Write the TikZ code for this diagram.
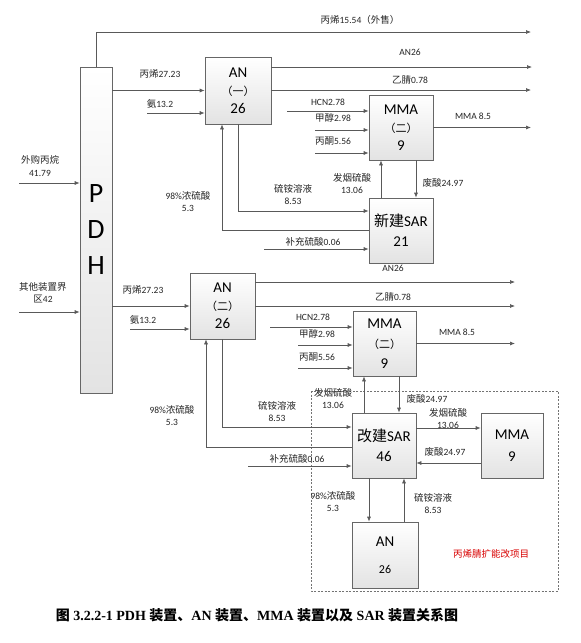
\documentclass[tikz,border=0pt]{standalone}
\usepackage{fontspec}
\setmainfont{Carlito}
\newfontfamily\cjk{Noto Sans CJK SC}
\newfontfamily\capserif{Liberation Serif}
\usetikzlibrary{arrows.meta,calc}
\newcommand{\zh}[1]{{\cjk #1}}
\newcommand{\pz}[1]{{\fontsize{11}{18}\selectfont\cjk #1}}
\begin{document}
\begin{tikzpicture}[x=1pt,y=-1pt,
  box/.style={draw=black!60, line width=0.7pt, top color=white, bottom color=gray!22, inner sep=0pt, align=center, font=\fontsize{15}{18}\selectfont},
  lbl/.style={font=\fontsize{9.5}{12}\selectfont, text=black!85, inner sep=0pt, align=center},
  flow/.style={draw=black!65, line width=0.7pt, -{Latex[length=5pt,width=4pt]}},
]
\fill[white] (0,0) rectangle (581,643);
\useasboundingbox (0,0) rectangle (581,643);

% boxes
\node[box, minimum width=32pt, minimum height=326pt, font=\fontsize{28}{36}\selectfont] (pdh) at (96,230) {P\\D\\H};
\node[box, minimum width=66pt, minimum height=67pt] (an1) at (238,90.5) {AN\\\pz{（一）}\\26};
\node[box, minimum width=64pt, minimum height=65pt] (mma1) at (401,127.5) {MMA\\\pz{（二）}\\9};
\node[box, minimum width=64pt, minimum height=65pt, font=\fontsize{15}{20}\selectfont] (sar1) at (401,230.5) {\zh{新建}SAR\\21};
\node[box, minimum width=65pt, minimum height=66pt] (an2) at (222.5,306) {AN\\\pz{（二）}\\26};
\node[box, minimum width=63pt, minimum height=65pt, font=\fontsize{15}{20}\selectfont] (mma2) at (384.5,343.5) {MMA\\\pz{（二）}\\9};
\node[box, minimum width=64pt, minimum height=65pt, font=\fontsize{15}{20}\selectfont] (sar2) at (384,445.5) {\zh{改建}SAR\\46};
\node[box, minimum width=62pt, minimum height=65pt, font=\fontsize{15}{22}\selectfont] (mma3) at (512,445.5) {MMA\\9};
\node[box, minimum width=66pt, minimum height=66pt, font=\fontsize{15}{27}\selectfont] (an3) at (385,555) {AN\\{\fontsize{12}{27}\selectfont 26}};

% dashed project frame
\draw[draw=black!55, line width=0.7pt, dash pattern=on 2pt off 1.5pt] (311,391) rectangle (558,591);

% coordinates
\coordinate (o0) at (531,32);
\coordinate (o1) at (532,67);
\coordinate (o2) at (531,90);
\coordinate (o3) at (531,127.5);
\coordinate (nh1) at (147,113);
\coordinate (ex1) at (19,183);
\coordinate (hcn1) at (287,111);
\coordinate (me1) at (315,130);
\coordinate (ac1) at (315,153);
\coordinate (sup1) at (264,249);
\coordinate (ex2) at (19,312);
\coordinate (nh2) at (130,329);
\coordinate (o4) at (515,282);
\coordinate (o5) at (515,306);
\coordinate (o6) at (515,343.5);
\coordinate (hcn2) at (270,327);
\coordinate (me2) at (298,345);
\coordinate (ac2) at (298,368);
\coordinate (sup2) at (248,466);

% upper connectors
\draw[flow] (pdh.north) |- (o0);
\draw[flow] (ex1) -- (ex1 -| pdh.west);
\draw[flow] (pdh.east |- an1.west) -- (an1.west);
\draw[flow] (nh1) -- (nh1 -| an1.west);
\draw[flow] (o1 -| an1.east) -- (o1);
\draw[flow] (o2 -| an1.east) -- (o2);
\draw[flow] (hcn1) -- (hcn1 -| mma1.west);
\draw[flow] (me1) -- (me1 -| mma1.west);
\draw[flow] (ac1) -- (ac1 -| mma1.west);
\draw[flow] (mma1.east) -- (o3);
\draw[flow] ([xshift=-20pt]sar1.north) -- ([xshift=-20pt]sar1.north |- mma1.south);
\draw[flow] ([xshift=15pt]sar1.north |- mma1.south) -- ([xshift=15pt]sar1.north);
\draw[flow] (an1.south) |- ([yshift=19.5pt]sar1.west);
\draw[flow] (sar1.west) -| ([xshift=-16pt]an1.south);
\draw[flow] (sup1) -- (sup1 -| sar1.west);

% lower connectors
\draw[flow] (ex2) -- (ex2 -| pdh.west);
\draw[flow] (pdh.east |- an2.west) -- (an2.west);
\draw[flow] (nh2) -- (nh2 -| an2.west);
\draw[flow] (o4 -| an2.east) -- (o4);
\draw[flow] (o5 -| an2.east) -- (o5);
\draw[flow] (hcn2) -- (hcn2 -| mma2.west);
\draw[flow] (me2) -- (me2 -| mma2.west);
\draw[flow] (ac2) -- (ac2 -| mma2.west);
\draw[flow] (mma2.east) -- (o6);
\draw[flow] ([xshift=-20pt]sar2.north) -- ([xshift=-20pt]sar2.north |- mma2.south);
\draw[flow] ([xshift=15pt]sar2.north |- mma2.south) -- ([xshift=15pt]sar2.north);
\draw[flow] (an2.south) |- ([yshift=18.5pt]sar2.west);
\draw[flow] ([yshift=-1.5pt]sar2.west) -| ([xshift=-16.5pt]an2.south);
\draw[flow] (sup2) -- (sup2 -| sar2.west);
\draw[flow] ([yshift=17.5pt]sar2.east) -- ([yshift=17.5pt]sar2.east -| mma3.west);
\draw[flow] ([yshift=-17.5pt]sar2.east -| mma3.west) -- ([yshift=-17.5pt]sar2.east);
\draw[flow] ([xshift=-15pt]sar2.south) -- ([xshift=-15pt]sar2.south |- an3.north);
\draw[flow] ([xshift=20pt]sar2.south |- an3.north) -- ([xshift=20pt]sar2.south);

% labels
\node[lbl] (t1) at (360,20) {\zh{丙烯}15.54\zh{（外售）}};
\node[lbl] (t2) at (410,52) {AN26};
\node[lbl] (t3) at (410,80) {\zh{乙腈}0.78};
\node[lbl] (t4) at (160,74) {\zh{丙烯}27.23};
\node[lbl] (t5) at (160,104) {\zh{氨}13.2};
\node[lbl, font=\fontsize{9.5}{13}\selectfont] (t6) at (40,166.5) {\zh{外购丙烷}\\41.79};
\node[lbl] (t7) at (328,102) {HCN2.78};
\node[lbl] (t8) at (333,118) {\zh{甲醇}2.98};
\node[lbl] (t9) at (333,141) {\zh{丙酮}5.56};
\node[lbl] (t10) at (473,116) {MMA 8.5};
\node[lbl] (t11) at (352,183.5) {\zh{发烟硫酸}\\13.06};
\node[lbl] (t12) at (443,183) {\zh{废酸}24.97};
\node[lbl] (t13) at (293,195) {\zh{硫铵溶液}\\8.53};
\node[lbl] (t14) at (188,201.5) {98\%\zh{浓硫酸}\\5.3};
\node[lbl] (t15) at (313,242) {\zh{补充硫酸}0.06};
\node[lbl] (t16) at (393,268) {AN26};
\node[lbl] (t17) at (43,293) {\zh{其他装置界}\\\zh{区}42};
\node[lbl] (t18) at (143,290) {\zh{丙烯}27.23};
\node[lbl] (t19) at (143,320) {\zh{氨}13.2};
\node[lbl] (t20) at (393,297) {\zh{乙腈}0.78};
\node[lbl] (t21) at (313,317) {HCN2.78};
\node[lbl] (t22) at (317,334) {\zh{甲醇}2.98};
\node[lbl] (t23) at (317,357) {\zh{丙酮}5.56};
\node[lbl] (t24) at (457,332) {MMA 8.5};
\node[lbl] (t25) at (333,399) {\zh{发烟硫酸}\\13.06};
\node[lbl] (t26) at (427,399) {\zh{废酸}24.97};
\node[lbl] (t27) at (277,412) {\zh{硫铵溶液}\\8.53};
\node[lbl] (t28) at (172,416) {98\%\zh{浓硫酸}\\5.3};
\node[lbl] (t29) at (297,459) {\zh{补充硫酸}0.06};
\node[lbl] (t30) at (448,419) {\zh{发烟硫酸}\\13.06};
\node[lbl] (t31) at (445,452) {\zh{废酸}24.97};
\node[lbl] (t32) at (333,502) {98\%\zh{浓硫酸}\\5.3};
\node[lbl] (t33) at (433,504) {\zh{硫铵溶液}\\8.53};
\node[lbl, text=red!85!black] (t34) at (491,554) {\zh{丙烯腈扩能改项目}};

% caption
\node[inner sep=0pt, font=\fontsize{14}{16}\selectfont\bfseries\capserif] (cap) at (257,615)
  {\zh{图} 3.2.2-1 PDH \zh{装置、}AN \zh{装置、}MMA \zh{装置以及} SAR \zh{装置关系图}};
\end{tikzpicture}
\end{document}
